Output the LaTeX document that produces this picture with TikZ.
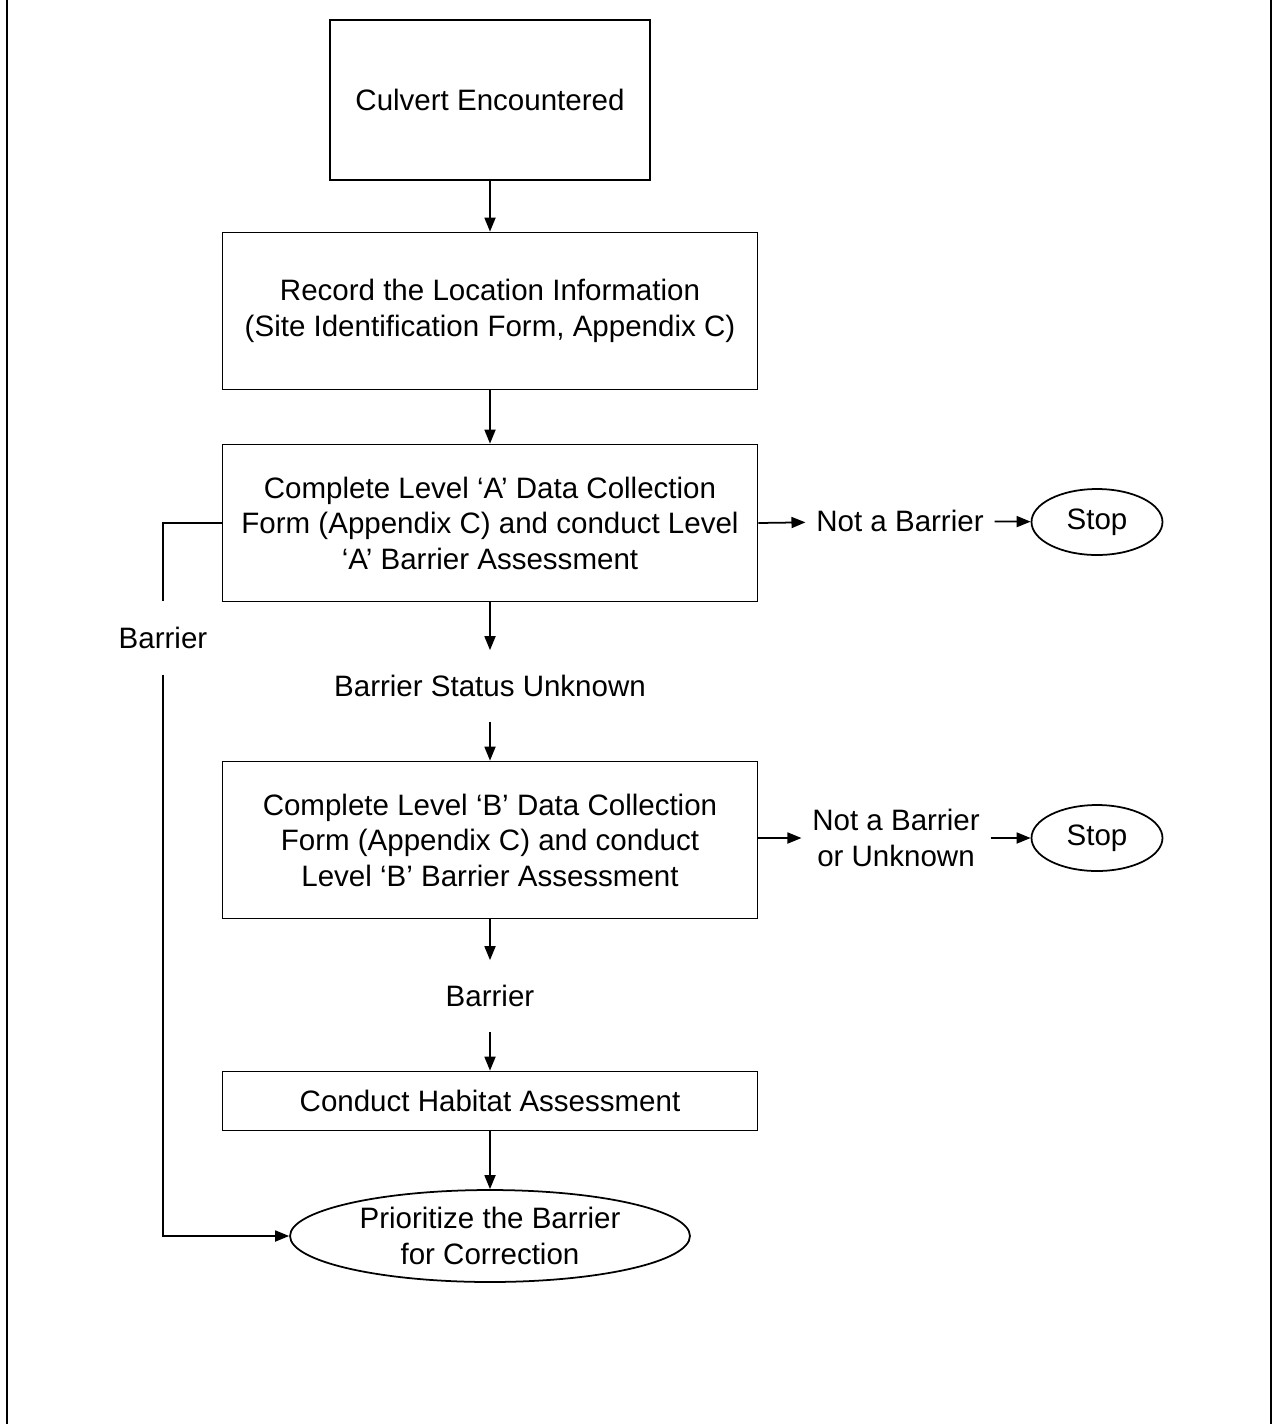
\documentclass[tikz,border=0pt]{standalone}
\usepackage{fontspec}
\setmainfont{Liberation Sans}
\usetikzlibrary{arrows.meta,shapes.geometric}

\begin{document}
\begin{tikzpicture}[
x=0.02cm, y=-0.02cm,
line width=1pt,
font=\fontsize{16.8}{20.2}\selectfont,
arr/.style={-{Triangle[length=0.28cm,width=0.22cm]}},
]
% \draw [help lines] (0,0) grid (1273,1424);
\useasboundingbox (0,0) rectangle (1273,1424);

\tikzset{
	box/.style={draw, align=center, minimum width=10.7cm, minimum height=3.14cm, inner sep=0pt},
	oval/.style={draw, ellipse, align=center, inner sep=0pt},
	lbl/.style={align=center, minimum height=1.4cm, inner xsep=0.2cm, inner ysep=0pt},
	frame/.style={line width=1.6pt},
}

% page edges
\draw[frame] (7,0) -- (7,1424);
\draw[frame] (1271,0) -- (1271,1424);

\node[box, minimum width=6.4cm, minimum height=3.2cm] (cul) at (490,100) {Culvert Encountered};
\node[box] (loc) at (490,311) {Record the Location Information\\(Site Identification Form, Appendix C)};
\node[box] (lva) at (490,523) {Complete Level ‘A’ Data Collection\\Form (Appendix C) and conduct Level\\‘A’ Barrier Assessment};
\node[lbl] (unk) at (490,686) {Barrier Status Unknown};
\node[box] (lvb) at (490,840) {Complete Level ‘B’ Data Collection\\Form (Appendix C) and conduct\\Level ‘B’ Barrier Assessment};
\node[lbl] (bar) at (490,996) {Barrier};
\node[box, minimum height=1.18cm] (hab) at (490,1101) {Conduct Habitat Assessment};
\node[oval, minimum width=8cm, minimum height=1.84cm] (pri) at (490,1236) {Prioritize the Barrier\\for Correction};

\node[lbl] (nba) at (900,521) {Not a Barrier};
\node[oval, minimum width=2.62cm, minimum height=1.32cm] (sta) at (1097,522) {Stop};
\node[lbl] (nbb) at (896,838) {Not a Barrier\\or Unknown};
\node[oval, minimum width=2.62cm, minimum height=1.32cm] (stb) at (1097,838) {Stop};

\node[lbl, minimum height=1.46cm] (bla) at (163,638) {Barrier};

\draw[arr] (cul) -- (loc);
\draw[arr] (loc) -- (lva);
\draw[arr] (lva) -- (unk);
\draw[arr] (unk) -- (lvb);
\draw[arr] (lvb) -- (bar);
\draw[arr] (bar) -- (hab);
\draw[arr] (hab) -- (pri);

\draw[arr] (lva.east) -- (nba);
\draw[arr] (nba) -- (sta);
\draw[arr] (lvb.east |- nbb) -- (nbb);
\draw[arr] (nbb) -- (stb);

\draw (lva.west) -| (bla.north);
\draw[arr] (bla.south) |- (pri.west);

\end{tikzpicture}
\end{document}
